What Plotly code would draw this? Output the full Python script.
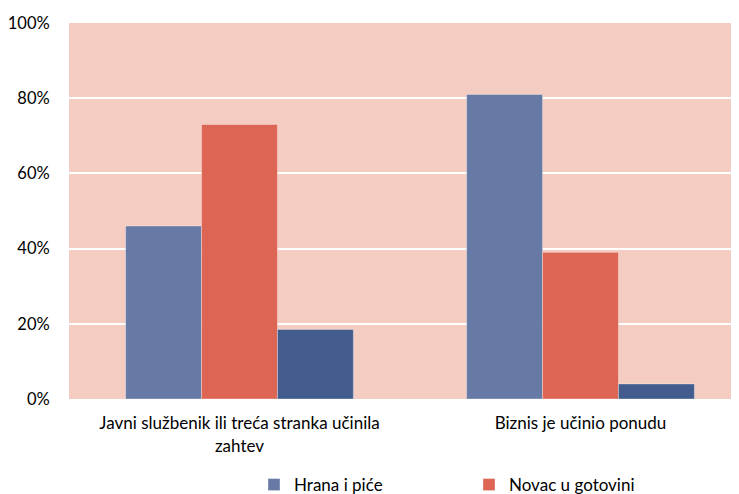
import plotly.graph_objects as go

categories = ["Javni službenik ili treća stranka učinila<br>zahtev", "Biznis je učinio ponudu"]
series_names = ["Hrana i piće", "Novac u gotovini", "Ostalo"]
hrana = [46, 81]
novac = [73, 39]
ostalo = [18.5, 4]
colors = ["#6779A5", "#DD6554", "#425C8E"]
show = [True, True, False]
ytick_vals = [0, 20, 40, 60, 80, 100]
ytick_text = ["0%", "20%", "40%", "60%", "80%", "100%"]

fig = go.Figure()
for name, vals, col, sh in zip(series_names, [hrana, novac, ostalo], colors, show):
    fig.add_trace(go.Bar(
        x=categories, y=vals, name=name, showlegend=sh,
        marker=dict(color=col, line=dict(color="rgba(255,255,255,0.35)", width=1)),
    ))

# page body has an 8px margin, so the figure is drawn 8px smaller
W, H = 731, 486
ml, mt, mb = 61, 15, 95
PW = W - ml
FONT = "Lato, sans-serif"
fig.update_layout(
    width=W, height=H,
    margin=dict(l=ml, r=0, t=mt, b=mb, pad=0, autoexpand=False),
    paper_bgcolor="white", plot_bgcolor="#F4CCC2",
    barmode="group", bargap=0.332, bargroupgap=0,
    font=dict(family=FONT, size=17, color="#000000"),
    xaxis=dict(type="category", range=[-0.5, -0.5 + PW / 341.0],
               showgrid=False, showline=False, ticks="outside", ticklen=9,
               tickcolor="rgba(0,0,0,0)", tickfont=dict(size=17),
               automargin=False),
    yaxis=dict(range=[0, 100], tickvals=ytick_vals, ticktext=ytick_text,
               showgrid=True, gridcolor="white", gridwidth=2, zeroline=False,
               showline=False, ticks="outside", ticklen=15, tickcolor="rgba(0,0,0,0)",
               tickfont=dict(size=16.5), automargin=False),
    legend=dict(orientation="h", x=(246 - ml) / PW, xanchor="left",
                y=-(459 - (H - mb)) / 376.0, yanchor="top",
                entrywidth=170, entrywidthmode="pixels", itemwidth=30,
                font=dict(size=17), bgcolor="rgba(0,0,0,0)"),
)
fig.write_html("out.html")
